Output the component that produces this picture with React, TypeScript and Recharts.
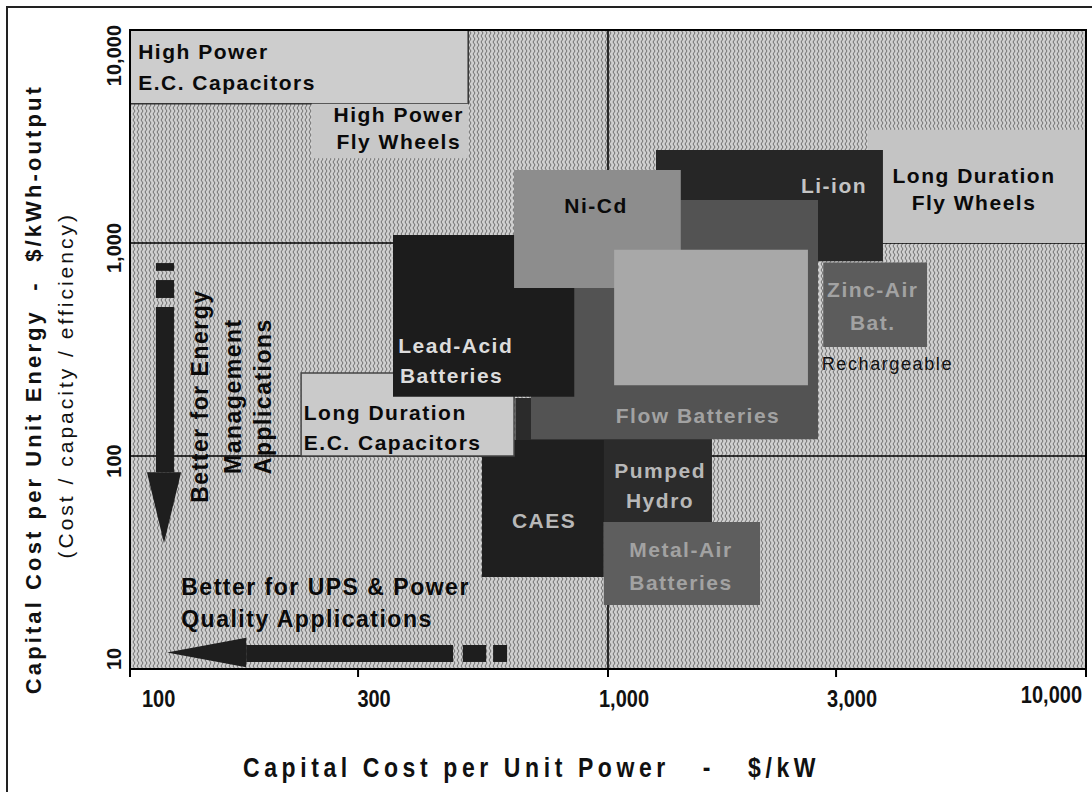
import React from 'react';
import { ScatterChart, Scatter, XAxis, YAxis, CartesianGrid, ReferenceArea } from 'recharts';

const CHART_W = 1092;
const CHART_H = 792;
const SANS = "'Liberation Sans', Arial, Helvetica, sans-serif";

// ---------------- data ----------------
// Technology cost ranges: power cost ($/kW) on x, energy cost ($/kWh-output) on y
const techNames = [
  'High Power E.C. Capacitors',
  'High Power Fly Wheels',
  'Long Duration Fly Wheels',
  'Li-ion',
  'Pumped Hydro',
  'CAES',
  'Flow Batteries',
  'Zinc-Air Bat.',
  'Long Duration E.C. Capacitors',
  'Lead-Acid Batteries',
  'Ni-Cd',
  'NaS Batteries',
  'Metal-Air Batteries',
];
const powerCostLow = [100, 240, 3500, 1260, 640, 545, 690, 2820, 228, 355, 636, 1030, 980];
const powerCostHigh = [510, 510, 10000, 3760, 1650, 980, 2750, 4650, 636, 850, 1420, 2620, 2080];
const energyCostLow = [4500, 2500, 1000, 820, 49, 27, 120, 325, 100, 190, 615, 215, 20];
const energyCostHigh = [10000, 4500, 3400, 2730, 187, 119, 1590, 810, 245, 1090, 2200, 930, 49];

const xTicks = [100, 300, 1000, 3000, 10000];
const yTicks = [10, 100, 1000, 10000];
const xDomain = [100, 10000];
const yDomain = [10, 10000];
const xGridValues = [1000];
const yGridValues = [100, 1000];

// text annotations anchored in data units
const annotations = [
  { text: 'High Power', x: 104, y: 7310, kind: 'blackStart' },
  { text: 'E.C. Capacitors', x: 104, y: 5230, kind: 'blackStart' },
  { text: 'High Power', x: 365, y: 3700, kind: 'blackMid' },
  { text: 'Fly Wheels', x: 365, y: 2760, kind: 'blackMid' },
  { text: 'Long Duration', x: 5830, y: 1910, kind: 'blackMid' },
  { text: 'Fly Wheels', x: 5830, y: 1430, kind: 'blackMid' },
  { text: 'Li-ion', x: 2970, y: 1720, kind: 'onBlack' },
  { text: 'Ni-Cd', x: 944, y: 1380, kind: 'blackMid' },
  { text: 'Zinc-Air', x: 3580, y: 558, kind: 'onGray' },
  { text: 'Bat.', x: 3580, y: 390, kind: 'onGray' },
  { text: 'Rechargeable', x: 2800, y: 253, kind: 'note' },
  { text: 'Lead-Acid', x: 364, y: 305, kind: 'onBlackStart' },
  { text: 'Batteries', x: 367, y: 220, kind: 'onBlackStart' },
  { text: 'Long Duration', x: 231, y: 148, kind: 'blackStart' },
  { text: 'E.C. Capacitors', x: 231, y: 107, kind: 'blackStart' },
  { text: 'Flow Batteries', x: 1543, y: 143, kind: 'onGray' },
  { text: 'Pumped', x: 1285, y: 79, kind: 'onDark' },
  { text: 'Hydro', x: 1285, y: 57, kind: 'onDark' },
  { text: 'CAES', x: 735, y: 46, kind: 'onDark' },
  { text: 'Metal-Air', x: 1421, y: 33.6, kind: 'onGray' },
  { text: 'Batteries', x: 1421, y: 23.5, kind: 'onGray' },
  { text: 'Better for UPS & Power', x: 128, y: 22.3, kind: 'bigStart' },
  { text: 'Quality Applications', x: 128, y: 15.7, kind: 'bigStart' },
  { text: 'Better for Energy', x: 145.6, y: 191, kind: 'rot' },
  { text: 'Management', x: 170.7, y: 191, kind: 'rot' },
  { text: 'Applications', x: 197.2, y: 191, kind: 'rot' },
];

// arrows (data units)
const hArrowSegX = [[175, 474], [497, 556], [575, 615]];
const hArrowSegY = [10.79, 12.96];
const hArrowHeadX = [119.5, 175];
const hArrowHeadY = [10.2, 14.0];
const vArrowSegY = [[84, 501], [552, 670], [740, 805]];
const vArrowSegX = [113.3, 123.6];
const vArrowHeadX = [108.5, 127.9];
const vArrowHeadY = [39, 84];

// ---------------- styles ----------------
const boxStyle: Record<string, { fill: string; stroke?: string }> = {
  'High Power E.C. Capacitors': { fill: '#cdcdcd', stroke: '#333' },
  'High Power Fly Wheels': { fill: '#c8c8c8' },
  'Long Duration Fly Wheels': { fill: '#c4c4c4' },
  'Li-ion': { fill: '#262626' },
  'Pumped Hydro': { fill: '#2b2b2b' },
  'CAES': { fill: '#1f1f1f' },
  'Flow Batteries': { fill: '#535353' },
  'Zinc-Air Bat.': { fill: '#5c5c5c' },
  'Long Duration E.C. Capacitors': { fill: '#cacaca', stroke: '#444' },
  'Lead-Acid Batteries': { fill: '#1c1c1c' },
  'Ni-Cd': { fill: '#8d8d8d' },
  'NaS Batteries': { fill: '#a8a8a8' },
  'Metal-Air Batteries': { fill: '#5e5e5e' },
};

const kindStyle: Record<string, any> = {
  blackStart: { anchor: 'start', fill: '#0a0a0a', size: 21, weight: 'bold', ls: 1.5 },
  blackMid: { anchor: 'middle', fill: '#0a0a0a', size: 21, weight: 'bold', ls: 1.5 },
  bigStart: { anchor: 'start', fill: '#0a0a0a', size: 23, weight: 'bold', ls: 1.5 },
  onBlack: { anchor: 'middle', fill: '#c4c4c4', size: 21, weight: 'bold', ls: 1.5 },
  onBlackStart: { anchor: 'start', fill: '#dcdcdc', size: 21, weight: 'bold', ls: 1.5 },
  onDark: { anchor: 'middle', fill: '#b8b8b8', size: 21, weight: 'bold', ls: 1.5 },
  onGray: { anchor: 'middle', fill: '#a2a2a2', size: 21, weight: 'bold', ls: 1.5 },
  note: { anchor: 'start', fill: '#111', size: 18, weight: 'normal', ls: 1.6 },
  rot: { anchor: 'middle', fill: '#0a0a0a', size: 23, weight: 'bold', ls: 1.5, rotate: true },
};

const ARROW_FILL = '#1e1e1e';

// ---------------- renderers ----------------
const LabelShape = (props: any) => {
  const { cx, cy, payload } = props;
  if (cx == null || cy == null || !payload) return <g />;
  const st = kindStyle[payload.kind];
  return (
    <text
      x={cx}
      y={cy}
      textAnchor={st.anchor}
      fill={st.fill}
      fontFamily={SANS}
      fontSize={st.size}
      fontWeight={st.weight}
      letterSpacing={st.ls}
      transform={st.rotate ? `rotate(-90 ${cx} ${cy})` : undefined}
    >
      {payload.text}
    </text>
  );
};

const LeftHead = (p: any) => {
  const { x, y, width, height } = p;
  return <path d={`M${x} ${y + height / 2} L${x + width} ${y} L${x + width} ${y + height} Z`} fill={ARROW_FILL} />;
};
const DownHead = (p: any) => {
  const { x, y, width, height } = p;
  return <path d={`M${x} ${y} L${x + width} ${y} L${x + width / 2} ${y + height} Z`} fill={ARROW_FILL} />;
};

const XTick = (props: any) => {
  const { x, y, payload } = props;
  const v = payload.value;
  const first = v === xTicks[0];
  const last = v === xTicks[xTicks.length - 1];
  const anchor = first ? 'start' : last ? 'end' : 'middle';
  const dx = first ? 12 : last ? -4 : 16;
  const dy = last ? 24 : 28;
  return (
    <text
      transform={`translate(${x + dx} ${y + dy}) scale(1 1.2)`}
      textAnchor={anchor}
      fontFamily={SANS}
      fontWeight="bold"
      fontSize={20}
      fill="#111"
    >
      {Number(v).toLocaleString('en-US')}
    </text>
  );
};

const YTick = (props: any) => {
  const { x, y, payload } = props;
  const v = payload.value;
  const first = v === yTicks[0];
  const last = v === yTicks[yTicks.length - 1];
  const anchor = first ? 'start' : last ? 'end' : 'middle';
  const dy = first ? 1 : last ? -5 : 5;
  const bx = x - 9;
  return (
    <text
      transform={`translate(${bx} ${y + dy}) rotate(-90)`}
      textAnchor={anchor}
      fontFamily={SANS}
      fontWeight="bold"
      fontSize={20}
      fill="#111"
    >
      {Number(v).toLocaleString('en-US')}
    </text>
  );
};

const XTitle = (props: any) => {
  const vb = props.viewBox || { x: 130, y: 669, width: 956, height: 60 };
  const cx = vb.x + vb.width * 0.42;
  const by = vb.y + 108;
  return (
    <text
      transform={`translate(${cx} ${by}) scale(1 1.2)`}
      textAnchor="middle"
      fontFamily={SANS}
      fontWeight="bold"
      fontSize={23}
      letterSpacing={4.6}
      fill="#111"
    >
      {'Capital Cost per Unit Power\u00A0\u00A0\u00A0-\u00A0\u00A0\u00A0$/kW'}
    </text>
  );
};

const YTitle = (props: any) => {
  const vb = props.viewBox || { x: 0, y: 30, width: 130, height: 639 };
  const y1 = vb.y + vb.height * 0.562;
  const y2 = vb.y + vb.height * 0.556;
  return (
    <g>
      <text
        transform={`translate(${vb.x + 41} ${y1}) rotate(-90)`}
        textAnchor="middle"
        fontFamily={SANS}
        fontWeight="bold"
        fontSize={22}
        letterSpacing={3.1}
        fill="#111"
      >
        {'Capital Cost per Unit Energy\u00A0\u00A0-\u00A0\u00A0$/kWh-output'}
      </text>
      <text
        transform={`translate(${vb.x + 73} ${y2}) rotate(-90)`}
        textAnchor="middle"
        fontFamily={SANS}
        fontWeight="normal"
        fontSize={21}
        letterSpacing={3}
        fill="#111"
      >
        (Cost / capacity / efficiency)
      </text>
    </g>
  );
};

export default function App() {
  const boxes = techNames.map((name, i) => ({
    name,
    x1: powerCostLow[i],
    x2: powerCostHigh[i],
    y1: energyCostLow[i],
    y2: energyCostHigh[i],
  }));

  return (
    <div style={{ position: 'absolute', left: 0, top: 0, width: CHART_W, height: CHART_H, background: '#fff', overflow: 'hidden' }}>
      <svg width={0} height={0} style={{ position: 'absolute', left: 0, top: 0 }}>
        <defs>
          <pattern id="bgTex" width={4} height={6} patternUnits="userSpaceOnUse">
            <rect width={4} height={6} fill="#cfcfcf" />
            <path d="M1 0 L3 3 L1 6" stroke="#6e6e6e" strokeWidth={1} fill="none" />
          </pattern>
        </defs>
      </svg>
      <div
        style={{
          position: 'absolute',
          left: 6,
          top: 6,
          width: CHART_W,
          height: CHART_H,
          borderTop: '2px solid #222',
          borderLeft: '2px solid #222',
        }}
      />
      <ScatterChart width={CHART_W} height={CHART_H} margin={{ top: 30, right: 6, bottom: 63, left: 0 }}>
        <CartesianGrid
          fill="url(#bgTex)"
          fillOpacity={1}
          stroke="#000"
          strokeWidth={1.6}
          verticalValues={xGridValues}
          horizontalValues={yGridValues}
        />
        <XAxis
          type="number"
          dataKey="x"
          scale="log"
          domain={xDomain}
          ticks={xTicks}
          interval={0}
          allowDataOverflow
          height={60}
          tick={<XTick />}
          tickSize={8}
          tickMargin={2}
          axisLine={{ stroke: '#000', strokeWidth: 2 }}
          tickLine={{ stroke: '#000', strokeWidth: 2 }}
          label={XTitle}
        />
        <YAxis
          type="number"
          dataKey="y"
          scale="log"
          domain={yDomain}
          ticks={yTicks}
          interval={0}
          allowDataOverflow
          width={130}
          tick={<YTick />}
          tickLine={false}
          tickSize={0}
          tickMargin={0}
          axisLine={{ stroke: '#000', strokeWidth: 2 }}
          label={YTitle}
        />
        {boxes.map((b) => (
          <ReferenceArea
            key={b.name}
            x1={b.x1}
            x2={b.x2}
            y1={b.y1}
            y2={b.y2}
            fill={boxStyle[b.name].fill}
            fillOpacity={1}
            stroke={boxStyle[b.name].stroke || 'none'}
            strokeWidth={1.5}
            ifOverflow="hidden"
          />
        ))}
        {hArrowSegX.map((s, i) => (
          <ReferenceArea
            key={'h' + i}
            x1={s[0]}
            x2={s[1]}
            y1={hArrowSegY[0]}
            y2={hArrowSegY[1]}
            fill={ARROW_FILL}
            fillOpacity={1}
            stroke="none"
          />
        ))}
        <ReferenceArea
          x1={hArrowHeadX[0]}
          x2={hArrowHeadX[1]}
          y1={hArrowHeadY[0]}
          y2={hArrowHeadY[1]}
          shape={LeftHead}
          fill={ARROW_FILL}
          fillOpacity={1}
        />
        {vArrowSegY.map((s, i) => (
          <ReferenceArea
            key={'v' + i}
            x1={vArrowSegX[0]}
            x2={vArrowSegX[1]}
            y1={s[0]}
            y2={s[1]}
            fill={ARROW_FILL}
            fillOpacity={1}
            stroke="none"
          />
        ))}
        <ReferenceArea
          x1={vArrowHeadX[0]}
          x2={vArrowHeadX[1]}
          y1={vArrowHeadY[0]}
          y2={vArrowHeadY[1]}
          shape={DownHead}
          fill={ARROW_FILL}
          fillOpacity={1}
        />
        <ReferenceArea
          x1={xDomain[0]}
          x2={xDomain[1]}
          y1={yDomain[0]}
          y2={yDomain[1]}
          fill="none"
          fillOpacity={0}
          stroke="#000"
          strokeWidth={2}
        />
        <Scatter data={annotations} shape={LabelShape} isAnimationActive={false} />
      </ScatterChart>
    </div>
  );
}
